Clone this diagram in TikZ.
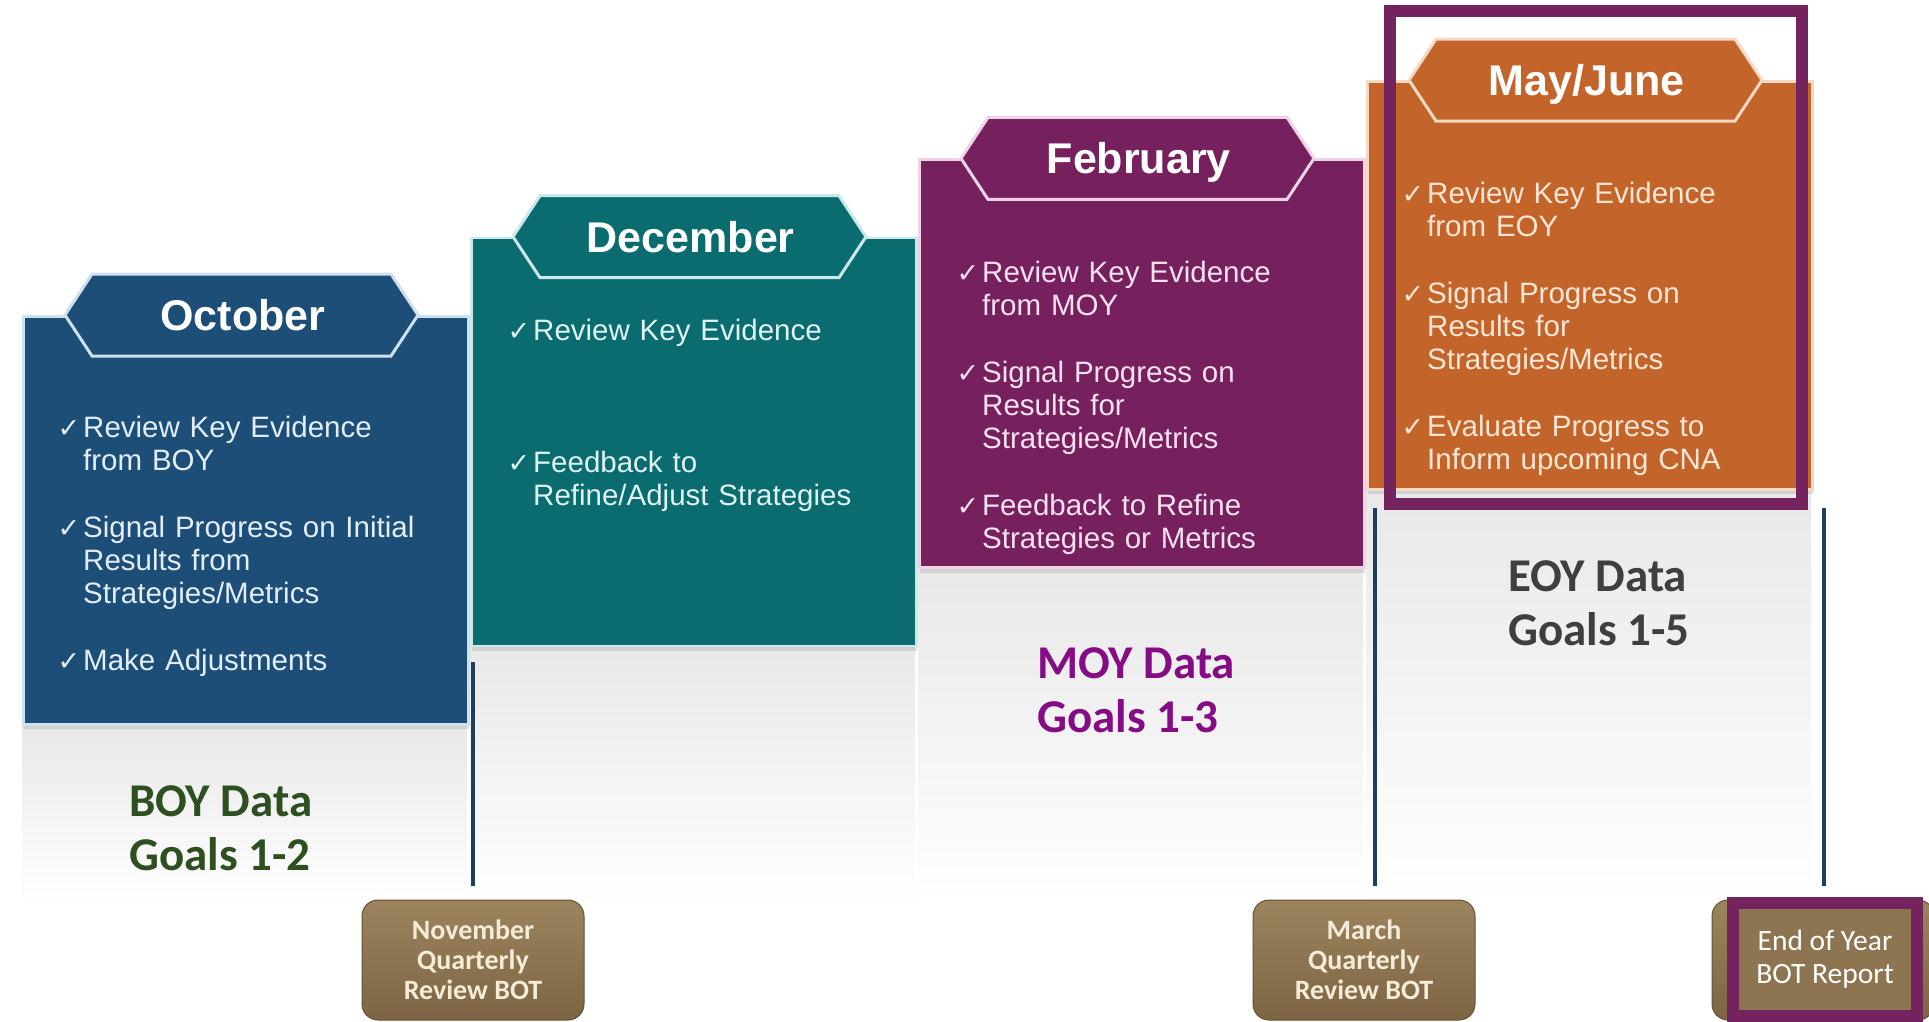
\documentclass[tikz,border=0pt]{standalone}
\usepackage{fontspec}
\setmainfont{Liberation Sans}
\newfontfamily\calibri{Carlito}
\newfontfamily\hakenfont{DejaVu Sans}
\usetikzlibrary{shadows}
% Haken vor jedem Punkt
\newcommand{\haken}{\makebox[0pt][r]{{\hakenfont\fontsize{27}{27}\selectfont ✓}\hspace{3pt}}}

\begin{document}
\begin{tikzpicture}[x=1pt,y=-1pt,
	kasten/.style={minimum width=445pt, minimum height=408pt, inner sep=0pt, anchor=north west, line width=2.5pt,
		drop shadow={shadow xshift=1pt, shadow yshift=-5pt, opacity=.22}},
	reiter/.style={line width=3pt},
	titel/.style={text=white, text height=31pt, text depth=0pt, inner sep=0pt, font=\bfseries\fontsize{43}{43}\selectfont},
	punkte/.style={anchor=base west, text width=370pt, align=left, inner sep=0pt, font=\fontsize{29.5}{33}\selectfont},
	daten/.style={anchor=base west, align=left, inner sep=0pt, font=\calibri\bfseries\fontsize{47}{54}\selectfont},
	sitzung/.style={minimum width=222pt, minimum height=120pt, inner sep=0pt, rounded corners=16pt, top color=braunH,
		bottom color=braunD, draw=braunD!80!black, line width=1pt, align=center, text=creme,
		font=\calibri\bfseries\fontsize{28}{30}\selectfont},
	linie/.style={line width=4pt, draw=strich, shorten >=14pt},
	rahmen/.style={draw=lila, line width=12pt, inner sep=0pt}]

		\definecolor{okt}{HTML}{1C4E78}
		\definecolor{oktH}{HTML}{CFE0EE}
		\definecolor{oktT}{HTML}{E3EEF8}
		\definecolor{dez}{HTML}{0A6C6E}
		\definecolor{dezH}{HTML}{CBE9EA}
		\definecolor{dezT}{HTML}{E0F4F4}
		\definecolor{feb}{HTML}{76215E}
		\definecolor{febH}{HTML}{EED3E6}
		\definecolor{febT}{HTML}{F6E1F1}
		\definecolor{mai}{HTML}{C3652B}
		\definecolor{maiH}{HTML}{F3D9C4}
		\definecolor{maiT}{HTML}{FBE6D5}
		\definecolor{lila}{HTML}{74235F}
		\definecolor{braun}{HTML}{8D7551}
		\definecolor{braunH}{HTML}{9C845E}
		\definecolor{braunD}{HTML}{7D6543}
		\definecolor{creme}{HTML}{F4ECD9}
		\definecolor{strich}{HTML}{1F3E5E}
		\definecolor{boy}{HTML}{2E4F1F}
		\definecolor{moy}{HTML}{850C85}
		\definecolor{eoy}{HTML}{3F3F3F}

		\fill[white] (0,0) rectangle (1929,1022);
		\useasboundingbox (0,0) rectangle (1929,1022);

		% Kaesten mit Reiter
		\foreach \i/\f/\h in {0/okt/oktH,1/dez/dezH,2/feb/febH,3/mai/maiH} {
			\pgfmathsetmacro\xl{22+448*\i}
			\pgfmathsetmacro\yt{315-78.3*\i}
			\fill[top color=black!9, bottom color=white] (\xl,\yt+408) rectangle (\xl+445,905);
			\node[kasten, fill=\f, draw=\h] (k\i) at (\xl,\yt) {};
			\draw[reiter, fill=\f, draw=\h] ([xshift=43pt]k\i.north west) -- ++(27,-41) -- ++(299,0)
				-- ++(27,41) -- ++(-27,41) -- ++(-299,0) -- cycle;
		}

		% Monate
		\node[titel] (t0) at ([xshift=-3pt]k0.north) {October};
		\node[titel] (t1) at ([xshift=-3pt]k1.north) {December};
		\node[titel] (t2) at ([xshift=-3pt]k2.north) {February};
		\node[titel] (t3) at ([xshift=-3pt]k3.north) {May/June};

		% Punkte
		\node[punkte, text=oktT] (p0) at (83,437) {\haken Review Key Evidence\\from BOY\\[34pt]
			\haken Signal Progress on Initial\\Results from\\Strategies/Metrics\\[34pt]
			\haken Make Adjustments};
		\node[punkte, text=dezT] (p1) at (533,340) {\haken Review Key Evidence\\[99pt]
			\haken Feedback to\\Refine/Adjust Strategies};
		\node[punkte, text=febT] (p2) at (982,282) {\haken Review Key Evidence\\from MOY\\[34pt]
			\haken Signal Progress on\\Results for\\Strategies/Metrics\\[34pt]
			\haken Feedback to Refine\\Strategies or Metrics};
		\node[punkte, text=maiT] (p3) at (1427,203) {\haken Review Key Evidence\\from EOY\\[34pt]
			\haken Signal Progress on\\Results for\\Strategies/Metrics\\[34pt]
			\haken Evaluate Progress to\\Inform upcoming CNA};

		% Daten (Grundlinie der zweiten Zeile)
		\node[daten, text=boy] (d0) at (129,870) {BOY Data\\Goals 1-2};
		\node[daten, text=moy] (d1) at (1037,732) {MOY Data\\Goals 1-3};
		\node[daten, text=eoy] (d2) at (1508,645) {EOY Data\\Goals 1-5};

		% Sitzungen
		\node[sitzung] (nov) at (473,960) {November\\Quarterly\\Review BOT};
		\node[sitzung] (mrz) at (1364,960) {March\\Quarterly\\Review BOT};
		\node[sitzung] (ende) at (1823,960) {};

		% Linien
		\coordinate (l1) at (473,662);
		\coordinate (l2) at (1375,508);
		\coordinate (l3) at (1824,508);
		\draw[linie] (l1) -- (l1 |- nov.north);
		\draw[linie] (l2) -- (l2 |- mrz.north);
		\draw[linie] (l3) -- (l3 |- ende.north);

		% Markierungen
		\node[rahmen, minimum width=412pt, minimum height=493pt] (fokus) at (1596,257.5) {};
		\node[rahmen, fill=braun, minimum width=184pt, minimum height=113pt, text=white, align=center,
			font=\calibri\fontsize{29.5}{33}\selectfont] (bericht) at (1825,959.5) {End of Year\\BOT Report};

	\end{tikzpicture}
\end{document}
